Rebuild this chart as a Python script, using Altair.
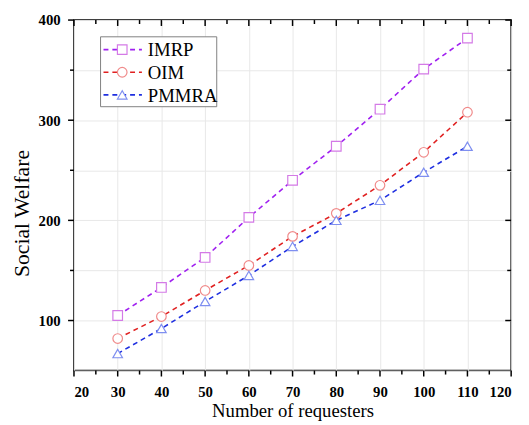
import altair as alt
import pandas as pd

requesters = [30, 40, 50, 60, 70, 80, 90, 100, 110]
imrp = [105, 133, 163, 203, 240, 274, 311, 351, 382]
oim = [82, 104, 130, 155, 184, 207, 235, 268, 308]
pmmra = [67, 92, 119, 145, 174, 200, 220, 248, 274]

series = ["IMRP", "OIM", "PMMRA"]
line_colors = ["#a020f0", "#e02020", "#1f2fe0"]
marker_colors = ["#d47ae6", "#f08a8a", "#7f8ff0"]
shapes = ["square", "circle", "triangle-up"]

x_major = list(range(20, 121, 10))
x_minor = list(range(25, 120, 10))
y_major = [100, 200, 300, 400]
y_minor = [150, 250, 350]
y_grid = list(range(50, 401, 50))

W, H = 444, 356
FONT = "Liberation Serif"

rows = []
for name, vals in zip(series, [imrp, oim, pmmra]):
    for x, v in zip(requesters, vals):
        rows.append({"n": x, "sw": v, "alg": name})
df = pd.DataFrame(rows)

xs = alt.Scale(domain=[20, 120], nice=False, zero=False)
ys = alt.Scale(domain=[50, 400], nice=False, zero=False)

x_axis = alt.Axis(values=x_major, title="Number of requesters", grid=True,
                  ticks=False, domain=False, labelPadding=14, titlePadding=3)
y_axis = alt.Axis(values=y_grid, title="Social Welfare", grid=True,
                  ticks=False, domain=False, labelPadding=14,
                  titleFontSize=22, titleX=-41, titleY=196,
                  labelExpr="(datum.value % 100 == 0 && datum.value > 50) ? datum.label : ''")

base = alt.Chart(df)

lines = base.mark_line(strokeDash=[5, 4], strokeWidth=1.6).encode(
    x=alt.X("n:Q", scale=xs, axis=x_axis),
    y=alt.Y("sw:Q", scale=ys, axis=y_axis),
    color=alt.Color("alg:N", scale=alt.Scale(domain=series, range=line_colors), legend=None),
    detail="alg:N",
)

points = base.mark_point(filled=True, fill="white", size=95, strokeWidth=1.2, opacity=1).encode(
    x=alt.X("n:Q", scale=xs, axis=x_axis),
    y=alt.Y("sw:Q", scale=ys, axis=y_axis),
    stroke=alt.Stroke("alg:N", scale=alt.Scale(domain=series, range=marker_colors), legend=None),
    shape=alt.Shape("alg:N", scale=alt.Scale(domain=series, range=shapes), legend=None),
)

layers = [lines, points]

def xticks(vals, length):
    d = pd.DataFrame({"v": vals})
    c = alt.Chart(d)
    bottom = c.mark_rule(color="black", strokeWidth=1.5).encode(
        x=alt.X("v:Q", scale=xs, axis=x_axis), y=alt.value(H), y2=alt.value(H + length))
    top = c.mark_rule(color="black", strokeWidth=1.5).encode(
        x=alt.X("v:Q", scale=xs, axis=x_axis), y=alt.value(0), y2=alt.value(length))
    return [bottom, top]

def yticks(vals, length):
    d = pd.DataFrame({"v": vals})
    c = alt.Chart(d)
    left = c.mark_rule(color="black", strokeWidth=1.5).encode(
        y=alt.Y("v:Q", scale=ys, axis=y_axis), x=alt.value(-length), x2=alt.value(0))
    right = c.mark_rule(color="black", strokeWidth=1.5).encode(
        y=alt.Y("v:Q", scale=ys, axis=y_axis), x=alt.value(W - length), x2=alt.value(W))
    return [left, right]

layers += xticks(x_major, 6) + xticks(x_minor, 4)
layers += yticks(y_major, 6) + yticks(y_minor, 4)

# legend box
lx0, ly0, lx1, ly1 = 27, 17, 145, 88
box = alt.Chart(pd.DataFrame({"a": [0]})).mark_rect(
    fill="white", stroke="#808080", strokeWidth=1).encode(
    x=alt.value(lx0), x2=alt.value(lx1), y=alt.value(ly0), y2=alt.value(ly1))
layers.append(box)
for i, name in enumerate(series):
    yy = ly0 + 13 + i * 23
    one = alt.Chart(pd.DataFrame({"a": [0]}))
    layers.append(one.mark_rule(color=line_colors[i], strokeWidth=1.6, strokeDash=[5, 4]).encode(
        x=alt.value(lx0 + 3), x2=alt.value(lx0 + 42), y=alt.value(yy)))
    layers.append(one.mark_point(filled=True, size=95, strokeWidth=1.2, fill="white", opacity=1,
                                 stroke=marker_colors[i], shape=shapes[i]).encode(
        x=alt.value(lx0 + 22), y=alt.value(yy)))
    layers.append(one.mark_text(align="left", baseline="middle", font=FONT, fontSize=19,
                                color="black").encode(
        x=alt.value(lx0 + 48), y=alt.value(yy + 1), text=alt.value(name)))

chart = alt.layer(*layers).properties(
    width=W, height=H,
    background="white",
    autosize=alt.AutoSizeParams(type="none"),
    padding={"left": 67, "top": 9, "right": 10, "bottom": 52},
).configure_view(stroke="black", strokeWidth=1.5).configure_axis(
    labelFont=FONT, labelFontWeight="bold", labelFontSize=15, labelColor="black",
    titleFont=FONT, titleFontWeight="normal", titleFontSize=19, titleColor="black",
    gridColor="#e8e8e8", gridWidth=1,
)

chart.save("out.html", embed_options={"renderer": "svg", "actions": False})
